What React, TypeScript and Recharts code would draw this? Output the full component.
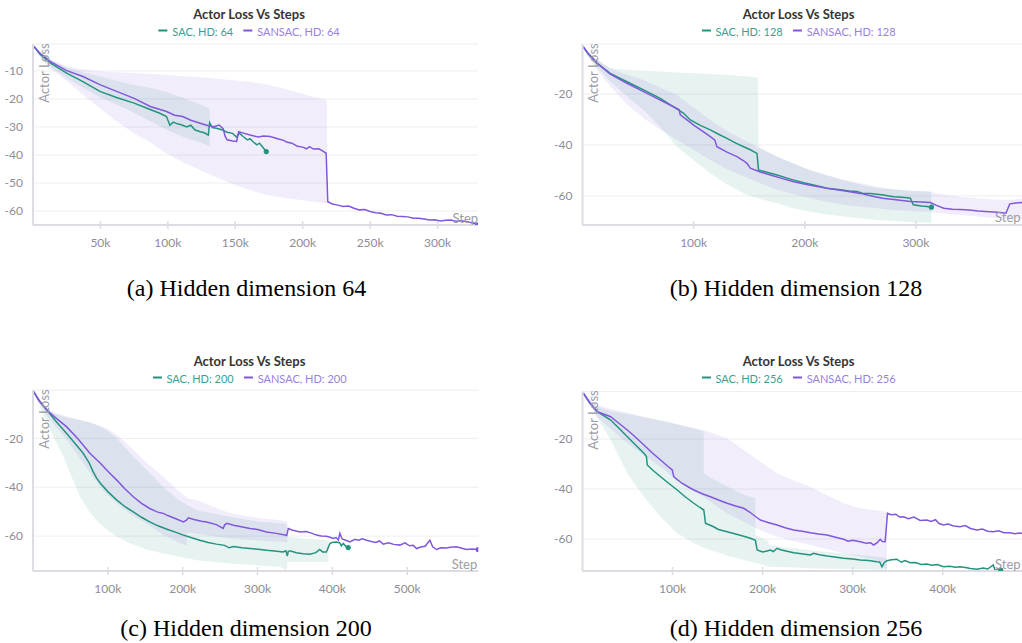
import React from 'react';
import { ComposedChart, Line, Area, XAxis, YAxis, CartesianGrid } from 'recharts';

// ---------- colors ----------
const SAC_COLOR = '#23937f';
const SANSAC_COLOR = '#8157dc';
const SAC_TEXT = '#3a9f91';
const SANSAC_TEXT = '#9a7fe3';
const TICK_COLOR = '#8d8d97';
const AXIS_COLOR = '#dcdce2';
const GRID_COLOR = '#eeeef0';
const UI_FONT = 'Lato, "Noto Sans", sans-serif';

// ---------- shared text ----------
const TITLE = 'Actor Loss Vs Steps';
const Y_LABEL = 'Actor Loss';
const X_LABEL = 'Step';

// ---------- panel (a) hidden dim 64 ----------
const A_HD = 64;
const A_CAPTION = '(a) Hidden dimension 64';
const A_X_TICKS = [50, 100, 150, 200, 250, 300];
const A_Y_TICKS = [-10, -20, -30, -40, -50, -60];
const A_SAC: [number, number][] = [
  [0.7, -1.3], [5, -4], [13, -7.2], [25, -10.8], [37, -13.8], [50, -17.4], [62, -19.5], [75, -21.5],
  [85, -23.4], [94, -25.1], [99, -26.3], [101.5, -29.4], [104, -28.3], [107, -28.9], [110, -29.2],
  [114, -30], [117, -29.4], [120, -31], [124, -31.7], [127, -32.1], [130, -32.9], [131, -28.5],
  [133, -30.2], [136, -30.5], [140, -31], [144, -31.9], [148, -32.3], [151, -33.6], [153, -32.2],
  [156, -33.5], [159, -34.6], [161, -34.2], [163, -35.2], [166, -36.4], [168, -35.8], [171, -37.6],
  [173, -38.8],
];
const A_SANSAC: [number, number][] = [
  [0.7, -1.3], [5, -3.6], [13, -6.7], [25, -9.9], [37, -12], [50, -15], [62, -17.3], [75, -19.8],
  [87, -22.7], [99, -24.5], [105, -25.8], [111, -26.3], [117, -27.6], [124, -28.7], [130, -29.6],
  [134, -29.9], [138, -29.3], [141, -30.6], [142.5, -33.4], [144, -34.6], [148, -35], [151, -35.2],
  [152.5, -31.7], [156, -32.2], [161, -32.9], [167, -33.6], [171, -33.2], [176, -33.4], [182, -34.3],
  [186, -34.8], [188, -35.4], [192, -35.8], [196, -36.9], [200, -37.2], [203, -37.8], [205, -37],
  [208, -37.9], [212, -37.8], [215, -38.6], [217.4, -39.4], [218.6, -56.7], [222, -57.5], [226, -57.9],
  [230, -58.4], [234, -58.2], [238, -59], [242, -59.6], [246, -59.5], [250, -60.2], [254, -60.6],
  [258, -60.8], [262, -61.4], [266, -61.3], [270, -61.9], [274, -62], [278, -62.1], [282, -62.6],
  [286, -62.6], [290, -62.9], [294, -63.2], [298, -63.1], [302, -63.6], [306, -63.3], [310, -63.2],
  [314, -63.7], [318, -63.5], [322, -63.8], [326, -64.3], [329.5, -65],
];
const A_SAC_BAND: [number, number, number][] = [
  [0.7, -1.3, -1.3], [5, -4.6, -3], [13, -8.6, -6], [25, -12.5, -8.8], [37, -16, -10.5], [50, -19.5, -12],
  [62, -22, -13.5], [75, -25, -15], [87, -28, -16], [99, -31, -17.5], [111, -33.5, -19.5],
  [124, -35.5, -22], [131, -37, -23.5],
];
const A_SANSAC_BAND: [number, number, number][] = [
  [0.7, -1.5, -0.8], [5, -5, -3], [13, -9.2, -5.8], [25, -13.5, -8.3], [37, -18.5, -9.5], [50, -23.5, -10.2],
  [62, -28, -10.5], [75, -32.3, -10.8], [87, -35.5, -11.1], [99, -39.5, -11.5], [111, -42.5, -11.9],
  [124, -45.4, -12.3], [136, -48, -12.8], [148, -50.5, -13.3], [161, -52.5, -14], [173, -54.3, -14.8],
  [185, -55.2, -16.2], [197, -56, -17.8], [208, -56.7, -19.3], [218, -57.3, -20.5],
];

// ---------- panel (b) hidden dim 128 ----------
const B_HD = 128;
const B_CAPTION = '(b) Hidden dimension 128';
const B_X_TICKS = [100, 200, 300];
const B_Y_TICKS = [-20, -40, -60];
const B_SAC: [number, number][] = [
  [0.6, -1.5], [5, -4.2], [13, -8], [25, -11.9], [40, -15.2], [55, -18.4], [70, -21.7], [79, -24.3],
  [88, -26.7], [91, -27.6], [97, -30.2], [106, -32.3], [115, -34.1], [122, -35.7], [130, -37.4],
  [138, -39.3], [145, -40.7], [151, -41.9], [157, -43.3], [158.4, -49.8], [165, -50.6], [175, -51.8],
  [187, -53.4], [199, -54.8], [209, -55.8], [220, -57], [232, -57.6], [240, -58.1], [247, -58.3],
  [252, -58.9], [259, -59], [265, -59.3], [271, -59.6], [276, -60], [280, -60.3], [287, -60.5],
  [292, -60.7], [295, -60.9], [297.7, -63.5], [305, -63.9], [310, -64.1], [314, -64.4],
];
const B_SANSAC: [number, number][] = [
  [0.6, -1.5], [5, -4], [13, -7.8], [25, -12.2], [40, -15.8], [55, -19.1], [70, -22.4], [82, -25],
  [87, -26.2], [88, -28.2], [94, -30.2], [100, -32.2], [108, -34.6], [115, -36.7], [119, -38],
  [121, -40.7], [130, -42.8], [139, -44.6], [145, -46.2], [148, -47.2], [151, -49.1], [160, -50.6],
  [169, -51.8], [180, -53.2], [190, -54.4], [205, -55.8], [220, -57], [235, -58], [250, -59],
  [260, -60], [270, -60.9], [282, -61.5], [295, -62.2], [305, -62.4], [313, -62.6], [318, -63.6],
  [325, -64.8], [333, -65.2], [340, -65.3], [348, -65.5], [356, -65.9], [366, -66.2], [374, -66.4],
  [381, -66.8], [384.5, -63.1], [390, -62.8], [395, -62.6], [400, -63],
];
const B_SAC_BAND: [number, number, number][] = [
  [0.6, -1.8, -1], [5, -5, -3.5], [13, -9.5, -6.5], [25, -15, -9.9], [40, -21, -10.5], [55, -26.3, -10.9],
  [70, -33, -11.2], [85, -40.7, -11.6], [100, -46, -11.9], [115, -51.1, -12.2], [130, -55.5, -12.6],
  [145, -58.9, -13], [157.9, -61, -13.5], [158.4, -61, -40.7], [175, -62.9, -44.5], [190, -64.8, -47.2],
  [205, -66.2, -50], [220, -67.3, -52], [235, -68.1, -53.7], [250, -68.8, -55.5], [265, -69.4, -57],
  [280, -69.8, -57.5], [295, -70.2, -58], [314, -70.5, -58.3],
];
const B_SANSAC_BAND: [number, number, number][] = [
  [0.6, -1.8, -1], [5, -5.5, -3.5], [13, -10.5, -6.5], [25, -17, -10], [40, -24, -12.5], [55, -29.5, -14.5],
  [70, -34, -17.5], [85, -38, -20.4], [100, -42, -25.3], [115, -45.9, -30.2], [130, -49.5, -34.5],
  [145, -52.4, -38], [160, -55, -41.5], [175, -57.6, -44.6], [190, -59.3, -47.4], [205, -60.9, -49.8],
  [220, -62.3, -51.8], [235, -63.5, -53.7], [250, -64.2, -55], [265, -64.8, -56.4], [280, -65.5, -57.4],
  [295, -65.9, -58], [310, -66.2, -58.3], [325, -66.9, -59.4], [340, -67.5, -60.3], [355, -68.1, -60.9],
  [370, -68.7, -61.4], [384, -68.8, -61.6], [400, -69, -60.9],
];

// ---------- panel (c) hidden dim 200 ----------
const C_HD = 200;
const C_CAPTION = '(c) Hidden dimension 200';
const C_X_TICKS = [100, 200, 300, 400, 500];
const C_Y_TICKS = [-20, -40, -60];
const C_SAC: [number, number][] = [
  [0.7, -0.8], [8, -4.5], [18.5, -8.4], [30, -12.8], [45, -18], [56, -22], [67, -26.1], [75, -30],
  [80, -33.4], [85, -36.3], [90, -38.4], [100, -41.8], [112, -45.3], [123, -48], [134, -50.1],
  [145, -52.3], [156, -54.2], [167, -55.8], [179, -57.2], [190, -58.4], [201, -59.6], [212, -60.7],
  [223, -61.7], [234, -62.6], [245, -63.3], [256, -63.8], [262, -64.8], [268, -64.3], [279, -64.8],
  [290, -65.1], [301, -65.4], [312, -65.8], [323, -66.1], [334, -66.5], [338, -66], [339.8, -68.2],
  [341, -66.4], [343, -66], [352, -66.8], [361, -67.2], [370, -67.4], [378, -66.8], [383, -65.5],
  [387, -66.5], [392, -66.5], [396.8, -63], [401, -62.5], [405.7, -62.4], [410, -62.8], [412, -64],
  [414.6, -63], [418, -64.2], [421.2, -64.7],
];
const C_SANSAC: [number, number][] = [
  [0.7, -0.8], [8, -4.5], [18.5, -8.4], [30, -11.5], [45, -15.3], [60, -20.2], [76, -26.1], [90, -30.2],
  [101, -33.8], [112, -37.1], [123, -40.7], [134, -43.9], [145, -46.6], [156, -48.7], [165, -50],
  [170, -50.5], [174, -50.7], [180, -51.6], [190, -52.8], [201, -54.2], [205, -53.5], [207.6, -52.5],
  [215, -53.2], [225, -53.9], [232, -54.2], [245, -55.3], [254, -56.9], [256, -55.5], [258.9, -54.8],
  [268, -55.6], [280, -56.3], [290, -56.9], [300, -57.3], [312, -58.3], [325, -58.9], [336.7, -59.6],
  [339, -59.8], [341.1, -56.9], [346, -57.5], [350, -57.8], [356.7, -58.3], [365, -58.1], [372, -58.8],
  [379, -59.6], [385, -60], [392, -60.1], [397, -60.5], [401.2, -61], [405, -60.6], [408, -61.6],
  [410.1, -58.9], [413, -61.2], [418, -61.7], [423.5, -62.4], [430, -61.3], [435, -61.7], [440, -61.1],
  [445.8, -61.7], [452, -62.2], [458, -62.6], [463, -62], [468, -63.3], [475, -62.7], [482, -63.4],
  [490.3, -63.7], [497, -62.8], [503, -64], [508, -63.8], [512.6, -65.1], [518, -64.5], [524, -64.2],
  [530.3, -61.7], [534, -64.4], [539.3, -65.5], [545, -64.8], [552, -64.9], [558, -64.6], [566, -64.4],
  [573, -65], [579.3, -65.5], [587, -65.3], [594.8, -65.5],
];
const C_SAC_BAND: [number, number, number][] = [
  [0.7, -1.5, -0.5], [8, -6, -3.5], [19.5, -14, -8.8], [30, -21, -10], [40.7, -27.5, -11],
  [52, -36, -11.8], [63, -43.9, -12.5], [74, -49.5, -13.3], [85, -53.5, -14.5], [98.6, -57.3, -16.6],
  [112, -60.3, -20], [130, -63, -26.1], [152, -65.5, -33], [174, -67.1, -39.8], [196, -68.5, -45.5],
  [219, -69.9, -49.4], [263, -71.2, -52.1], [300, -72, -54], [330, -72.6, -54.8], [339, -74, -55.2],
  [340, -70.6, -60.3], [365, -70.6, -61], [394.7, -70.6, -61.7],
];
const C_SANSAC_BAND: [number, number, number][] = [
  [0.7, -1.5, -0.5], [8, -5, -3.5], [18.5, -10.7, -7.5], [30, -15, -9.5], [45, -20.5, -11], [60, -27, -12.3],
  [76, -34, -13.5], [90, -40, -14.8], [98.6, -43, -16], [112, -46.5, -18.5], [130, -51, -23.4],
  [152, -55, -30], [174, -59.5, -35.7], [196, -62.8, -42], [205, -64, -44], [206, -58.5, -44.5],
  [219, -59, -45.3], [263, -61, -50.7], [300, -61.8, -52.5], [330, -62.3, -53.5], [340, -62.5, -54],
];

// ---------- panel (d) hidden dim 256 ----------
const D_HD = 256;
const D_CAPTION = '(d) Hidden dimension 256';
const D_X_TICKS = [100, 200, 300, 400];
const D_Y_TICKS = [-20, -40, -60];
const D_SAC: [number, number][] = [
  [1, -1.7], [8, -5.5], [16.5, -9.1], [31.3, -12.4], [40, -15.5], [49.8, -19.1], [59, -22.4], [68.2, -25.7],
  [71, -27], [71.9, -30.4], [79, -32.8], [86.7, -35.1], [96, -37.8], [105.2, -40.4], [114, -43.1],
  [123.6, -45.7], [130, -47.3], [134.7, -48.4], [136.6, -53.7], [145, -55], [151, -56.2], [160.6, -57.1],
  [170, -58], [180, -59], [186.5, -59.7], [192, -60.5], [193.9, -64.4], [200, -65.2], [205, -64.8],
  [208.6, -64.4], [212, -65], [216, -63.7], [220, -64.3], [226, -64.8], [234.5, -65.5], [245, -66],
  [253, -66.4], [256.7, -65.7], [263, -66.3], [271.5, -66.8], [280, -67.2], [289.9, -67.7], [300, -68],
  [308.4, -68.4], [318, -68.6], [327, -69.1], [330, -69.2], [332.5, -71.1], [335, -69.5], [338, -68.7],
  [343, -68.3], [349, -68.1], [354, -69.3], [358, -68.6], [363.9, -69.5], [370, -69.4], [376, -70.2],
  [382.4, -70], [388, -70.5], [394, -70.2], [400.8, -71.1], [408, -70.9], [414, -71.3], [419.3, -71.1],
  [425, -71.4], [431, -71.8], [437.8, -72.1], [445, -71.6], [450, -72], [456.2, -70.4], [458, -72.4],
  [464.4, -72.4],
];
const D_SANSAC: [number, number][] = [
  [1, -1.7], [8, -5.5], [16.5, -9.1], [31.3, -11.1], [40, -13.6], [49.8, -16.4], [59, -19.3], [68.2, -22.4],
  [77, -25.4], [86.7, -28.4], [94, -30.7], [99.7, -32.4], [101.4, -35.1], [110, -37.6], [118, -39.3],
  [123.6, -40.4], [133, -41.9], [142.1, -43.1], [151, -44.4], [160.6, -45.7], [170, -46.8], [179, -47.7],
  [186, -49.3], [192, -51], [197.6, -52.4], [206, -53.4], [216, -54.4], [225, -55.5], [234.5, -56.4],
  [244, -56.9], [253, -57.5], [262, -58], [271.5, -58.4], [280, -59.2], [289.9, -60.1], [295, -60.9],
  [300, -60.5], [308.4, -61.1], [315, -61.7], [320, -61.5], [323.2, -62.4], [327, -61.6], [330.6, -60.1],
  [333, -61], [336.1, -61.1], [338.7, -49.7], [343, -50.3], [348, -50.1], [352, -51.2], [356.4, -51.1],
  [362, -51.9], [368, -51.2], [375, -52.6], [382.4, -52.4], [387, -53], [392, -52.3], [396, -53.8],
  [400.8, -54.4], [406, -54], [412, -54.8], [419.3, -55.1], [425, -54.6], [431, -55.8], [437.8, -56.4],
  [444, -56], [450, -56.9], [456.2, -57.1], [462, -56.7], [468, -57.5], [474.7, -57.5], [480, -57.9],
  [486, -57.6], [492, -58.2],
];
const D_SAC_BAND: [number, number, number][] = [
  [1, -2, -1.2], [8, -6, -4.5], [16.5, -11.5, -7.1], [31.3, -20.4, -8.8], [49.8, -33.7, -10],
  [68, -43.1, -11.3], [86.7, -51.1, -12.5], [105, -57.7, -14], [123, -61.5, -15.7], [134.6, -63.5, -17],
  [134.7, -63.5, -33.7], [142, -64.4, -35.5], [160, -66.5, -38.8], [179, -68.4, -42.2], [191.9, -69.5, -43.7],
  [192, -69.5, -58.4], [206.8, -71.1, -61], [206.9, -71.1, -62.5], [230, -71.3, -63.5], [253, -71.7, -64.5],
  [290, -72, -65.8], [320, -72.2, -66.8], [338, -72.4, -67.6],
];
const D_SANSAC_BAND: [number, number, number][] = [
  [1, -2, -1.2], [8, -6.5, -4], [16.5, -11.1, -6.4], [31.3, -16, -8], [49.8, -21.7, -9.5], [68, -26.5, -11.1],
  [86.7, -31.1, -12.7], [105, -36.4, -14.2], [123, -40.3, -15.5], [134, -43.1, -16.4], [147, -46.4, -18],
  [160.6, -49.7, -19.7], [179, -53.1, -24.4], [197, -56.4, -29], [216, -59.1, -33.7], [234, -60.8, -36.5],
  [253, -62.4, -39.1], [271, -64, -42.4], [290, -65.7, -45.7], [308, -67, -47.7], [327, -68.4, -48.6],
  [338, -72.4, -49.1],
];

// ---------- helpers ----------
const toLine = (pts: [number, number][]) => pts.map(([s, v]) => ({ s, v }));
const toBand = (pts: [number, number, number][]) => pts.map(([s, lo, hi]) => ({ s, r: [lo, hi] }));

const XTick = (props: any) => {
  const { x, y, payload } = props;
  return (
    <g>
      <line x1={x} x2={x} y1={y - 4} y2={y + 4} stroke={AXIS_COLOR} strokeWidth={1.5} />
      <text x={x} y={y + 17.5} dy="0.35em" textAnchor="middle" fill={TICK_COLOR} fontSize={12} fontFamily={UI_FONT}>
        {`${payload.value}k`}
      </text>
    </g>
  );
};

const endDot = (n: number, color: string) => (props: any) => {
  if (props.index !== n - 1) return <g key={`d${props.index}`} />;
  return <circle key={`d${props.index}`} cx={props.cx} cy={props.cy} r={2.6} fill={color} stroke="none" />;
};

type PanelProps = {
  left: number; top: number; width: number; height: number;
  margin: { top: number; right: number; bottom: number; left: number };
  yAxisWidth: number;
  xMax: number; yDomain: [number, number];
  xTicks: number[]; yTicks: number[];
  sac: [number, number][]; sansac: [number, number][];
  sacBand: [number, number, number][]; sansacBand: [number, number, number][];
  hd: number;
  titleX: number; titleY: number; legendY: number;
  yLabelX: number; yLabelY: number;
  stepX: number; stepY: number;
  caption: string; captionX: number; captionY: number;
};

function Panel(p: PanelProps) {
  const sac = toLine(p.sac);
  const sansac = toLine(p.sansac);
  return (
    <>
      <div style={{ position: 'absolute', left: p.left, top: p.top, width: p.width, height: p.height }}>
        <ComposedChart width={p.width} height={p.height} margin={p.margin}>
          <CartesianGrid horizontal vertical={false} stroke={GRID_COLOR} strokeWidth={1} />
          <XAxis
            type="number" dataKey="s" domain={[0, p.xMax]} ticks={p.xTicks} allowDataOverflow
            height={20} tickSize={0} tickMargin={0} tickLine={false} tick={<XTick />}
            axisLine={{ stroke: AXIS_COLOR, strokeWidth: 2 }} interval={0}
          />
          <YAxis
            type="number" domain={p.yDomain} ticks={p.yTicks} allowDataOverflow width={p.yAxisWidth}
            tickSize={0} tickMargin={10} tickLine={false} interval={0}
            tick={{ fill: TICK_COLOR, fontSize: 12, fontFamily: UI_FONT }}
            axisLine={{ stroke: AXIS_COLOR, strokeWidth: 2 }}
          />
          <Area data={toBand(p.sacBand)} dataKey="r" type="linear" stroke="none" fill={SAC_COLOR}
            fillOpacity={0.11} isAnimationActive={false} />
          <Area data={toBand(p.sansacBand)} dataKey="r" type="linear" stroke="none" fill={SANSAC_COLOR}
            fillOpacity={0.11} isAnimationActive={false} />
          <Line data={sac} dataKey="v" type="linear" stroke={SAC_COLOR} strokeWidth={1.5}
            dot={endDot(sac.length, SAC_COLOR)} activeDot={false} isAnimationActive={false} />
          <Line data={sansac} dataKey="v" type="linear" stroke={SANSAC_COLOR} strokeWidth={1.5}
            dot={endDot(sansac.length, SANSAC_COLOR)} activeDot={false} isAnimationActive={false} />
        </ComposedChart>
      </div>
      <div style={{
        position: 'absolute', left: p.titleX, top: p.titleY, transform: 'translate(-50%,-50%)',
        fontFamily: UI_FONT, fontWeight: 700, fontSize: 13, color: '#353535', whiteSpace: 'nowrap',
      }}>{TITLE}</div>
      <div style={{
        position: 'absolute', left: p.titleX, top: p.legendY, transform: 'translate(-50%,-50%)',
        fontFamily: UI_FONT, fontSize: 11, whiteSpace: 'nowrap', display: 'flex', alignItems: 'center',
      }}>
        <span style={{ display: 'inline-block', width: 9, height: 2, background: SAC_COLOR, marginRight: 5 }} />
        <span style={{ color: SAC_TEXT }}>{`SAC, HD: ${p.hd}`}</span>
        <span style={{ display: 'inline-block', width: 9, height: 2, background: SANSAC_COLOR, marginLeft: 10, marginRight: 5 }} />
        <span style={{ color: SANSAC_TEXT }}>{`SANSAC, HD: ${p.hd}`}</span>
      </div>
      <div style={{
        position: 'absolute', left: p.yLabelX, top: p.yLabelY, transform: 'translate(-50%,-50%) rotate(-90deg)',
        fontFamily: UI_FONT, fontSize: 13, color: '#9b9ba3', whiteSpace: 'nowrap',
      }}>{Y_LABEL}</div>
      <div style={{
        position: 'absolute', left: p.stepX, top: p.stepY, transform: 'translate(0,-50%)',
        fontFamily: UI_FONT, fontSize: 13, color: '#9b9ba3', whiteSpace: 'nowrap',
      }}>{X_LABEL}</div>
      <div style={{
        position: 'absolute', left: p.captionX, top: p.captionY, transform: 'translate(-50%,-50%)',
        fontFamily: '"Liberation Serif", "Times New Roman", serif', fontSize: 24, color: '#000', whiteSpace: 'nowrap',
      }}>{p.caption}</div>
    </>
  );
}

export default function App() {
  return (
    <div style={{ position: 'fixed', left: 0, top: 0, width: 1022, height: 643, overflow: 'hidden', background: '#fff' }}>
      <Panel
        left={0} top={0} width={490} height={260}
        margin={{ top: 44, right: 12, bottom: 15, left: 0 }} yAxisWidth={33}
        xMax={330} yDomain={[-65, -0.4]} xTicks={A_X_TICKS} yTicks={A_Y_TICKS}
        sac={A_SAC} sansac={A_SANSAC} sacBand={A_SAC_BAND} sansacBand={A_SANSAC_BAND} hd={A_HD}
        titleX={249} titleY={14} legendY={30.5}
        yLabelX={43.5} yLabelY={72.5} stepX={452.5} stepY={217.5}
        caption={A_CAPTION} captionX={246.5} captionY={287.5}
      />
      <Panel
        left={540} top={0} width={500} height={260}
        margin={{ top: 44, right: 13, bottom: 15, left: 0 }} yAxisWidth={42.5}
        xMax={400} yDomain={[-71.4, -0.4]} xTicks={B_X_TICKS} yTicks={B_Y_TICKS}
        sac={B_SAC} sansac={B_SANSAC} sacBand={B_SAC_BAND} sansacBand={B_SANSAC_BAND} hd={B_HD}
        titleX={798.5} titleY={14} legendY={30.5}
        yLabelX={592.5} yLabelY={72.5} stepX={995} stepY={216.7}
        caption={B_CAPTION} captionX={796} captionY={287.5}
      />
      <Panel
        left={0} top={340} width={490} height={260}
        margin={{ top: 50, right: 11.7, bottom: 9, left: 0 }} yAxisWidth={33}
        xMax={595} yDomain={[-74.3, -0.2]} xTicks={C_X_TICKS} yTicks={C_Y_TICKS}
        sac={C_SAC} sansac={C_SANSAC} sacBand={C_SAC_BAND} sansacBand={C_SANSAC_BAND} hd={C_HD}
        titleX={249.5} titleY={361} legendY={377.7}
        yLabelX={43.5} yLabelY={419} stepX={451.7} stepY={564}
        caption={C_CAPTION} captionX={246} captionY={628}
      />
      <Panel
        left={540} top={340} width={500} height={260}
        margin={{ top: 51.5, right: 14, bottom: 9, left: 0 }} yAxisWidth={42.5}
        xMax={492.5} yDomain={[-72.8, -1]} xTicks={D_X_TICKS} yTicks={D_Y_TICKS}
        sac={D_SAC} sansac={D_SANSAC} sacBand={D_SAC_BAND} sansacBand={D_SANSAC_BAND} hd={D_HD}
        titleX={798.5} titleY={361} legendY={377.7}
        yLabelX={592.5} yLabelY={419.5} stepX={995} stepY={564}
        caption={D_CAPTION} captionX={796} captionY={628}
      />
    </div>
  );
}
